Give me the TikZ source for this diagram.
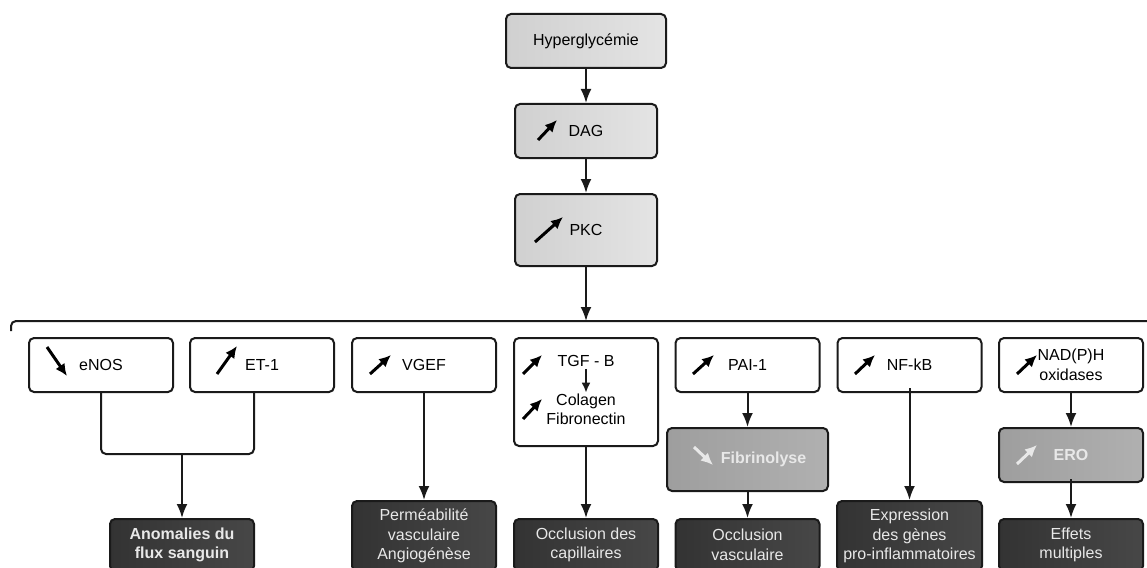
\documentclass[tikz,border=0pt]{standalone}
\usepackage{fontspec}
\setmainfont{Liberation Sans}
\usetikzlibrary{arrows.meta,calc}
\definecolor{edge}{HTML}{1A1A1A}
\definecolor{topL}{HTML}{D0D0D0}
\definecolor{topR}{HTML}{E4E4E4}
\definecolor{midL}{HTML}{9E9E9E}
\definecolor{midR}{HTML}{B0B0B0}
\definecolor{darkL}{HTML}{333333}
\definecolor{darkR}{HTML}{474747}
\definecolor{lighttext}{HTML}{E8E8E8}
\begin{document}
\begin{tikzpicture}[x=1pt,y=-1pt,
  font=\fontsize{16pt}{19.5pt}\selectfont,
  box/.style={draw=edge, line width=2pt, rounded corners=5pt, align=center, inner sep=0pt},
  topbox/.style={box, left color=topL, right color=topR, minimum width=142pt, minimum height=54pt},
  whitebox/.style={box, fill=white, minimum width=144pt, minimum height=54pt},
  midbox/.style={box, left color=midL, right color=midR, minimum width=144pt, minimum height=54pt, text=lighttext, font=\fontsize{16pt}{19.5pt}\selectfont\bfseries},
  darkbox/.style={box, left color=darkL, right color=darkR, minimum width=144pt, anchor=north, text=lighttext},
  line/.style={draw=edge, line width=2pt},
  arr/.style={line, -{Latex[length=14pt,width=11pt]}},
  smallarr/.style={line, -{Latex[length=10pt,width=9pt]}},
  icon/.style={line width=3pt, -{Latex[length=12pt,width=11pt]}},
  lighticon/.style={icon, draw=lighttext, color=lighttext}
]
\useasboundingbox (0,0) rectangle (1147,567);
\clip (0,0) rectangle (1147,567);

% top chain
\node[topbox, minimum width=160pt] (hyp) at (586,41) {Hyperglycémie};
\node[topbox] (dag) at (586,131) {DAG};
\node[topbox, minimum height=72pt] (pkc) at (586,230) {PKC};
\draw[icon] ($(dag.center)+(-48,9)$) -- ($(dag.center)+(-29,-11)$);
\draw[icon] ($(pkc.center)+(-51,12)$) -- ($(pkc.center)+(-23,-13)$);
\draw[arr] (hyp) -- (dag);
\draw[arr] (dag) -- (pkc);

% bus
\coordinate (bus) at (586,321);
\draw[arr] (pkc) -- (bus);
\draw[line, rounded corners=5pt] (11,331) -- (11,321) -- (1160,321);

% first row
\node[whitebox] (enos) at (101,365) {eNOS};
\node[whitebox] (et) at (262,365) {ET-1};
\node[whitebox] (vgef) at (424,365) {VGEF};
\node[whitebox, minimum height=108pt] (tgf) at (586,392) {};
\node[inner sep=2pt] (tgfb) at (586,361) {TGF - B};
\node[inner sep=1pt, align=center] (col) at (586,409.5) {Colagen\\Fibronectin};
\node[whitebox] (pai) at (747.5,365) {PAI-1};
\node[whitebox] (nf) at (909.5,365) {NF-kB};
\node[whitebox] (nad) at (1071,365) {NAD(P)H\\oxidases};

\draw[icon] ($(enos.center)+(-54,-18)$) -- ($(enos.center)+(-34,11)$);
\draw[icon] ($(et.center)+(-45,9)$) -- ($(et.center)+(-25,-19)$);
\draw[icon] ($(vgef.center)+(-54,9)$) -- ($(vgef.center)+(-33,-10)$);
\draw[icon] ($(tgf.center)+(-63,-18)$) -- ($(tgf.center)+(-44,-37)$);
\draw[icon] ($(tgf.center)+(-63,27)$) -- ($(tgf.center)+(-44,7)$);
\draw[icon] ($(pai.center)+(-54.5,9)$) -- ($(pai.center)+(-33.5,-10)$);
\draw[icon] ($(nf.center)+(-54.5,9)$) -- ($(nf.center)+(-34.5,-10)$);
\draw[icon] ($(nad.center)+(-54,9)$) -- ($(nad.center)+(-34,-10)$);
\draw[smallarr] (tgfb) -- (col);

% middle gray row
\node[midbox, minimum width=161pt, minimum height=63pt] (fib) at (747.5,459.5) {\hspace*{32pt}Fibrinolyse};
\node[midbox] (ero) at (1071,455) {ERO};
\draw[lighticon] ($(fib.center)+(-53.5,-12.5)$) -- ($(fib.center)+(-34.5,5.5)$);
\draw[lighticon] ($(ero.center)+(-54,9)$) -- ($(ero.center)+(-34,-10)$);

% bottom dark row
\node[darkbox, minimum height=52pt, font=\fontsize{16pt}{19.5pt}\selectfont\bfseries] (anom) at (182,518) {Anomalies du\\flux sanguin};
\node[darkbox, minimum height=70pt] (perm) at (424,500) {Perméabilité\\vasculaire\\Angiogénèse};
\node[darkbox, minimum height=52pt] (occ1) at (586,518) {Occlusion des\\capillaires};
\node[darkbox, minimum height=52pt] (occ2) at (747.5,518) {Occlusion\\vasculaire};
\node[darkbox, minimum height=70pt, minimum width=145pt] (expr) at (909.5,500) {Expression\\des gènes\\pro-inflammatoires};
\node[darkbox, minimum height=52pt] (eff) at (1071,518) {Effets\\multiples};

% connectors
\coordinate (jn) at (182,454);
\draw[line, rounded corners=5pt] (enos.south) |- (jn) -| ([xshift=-8pt]et.south);
\draw[arr] (jn) -- (anom.north);
\draw[arr] (vgef) -- (perm);
\draw[arr] (tgf) -- (occ1);
\draw[arr] (pai) -- (fib);
\draw[arr] (fib) -- (occ2);
\draw[arr] ([yshift=5pt]nf.south) -- (expr.north);
\draw[arr] (nad) -- (ero);
\draw[arr] ([yshift=4pt]ero.south) -- (eff.north);
\end{tikzpicture}
\end{document}
